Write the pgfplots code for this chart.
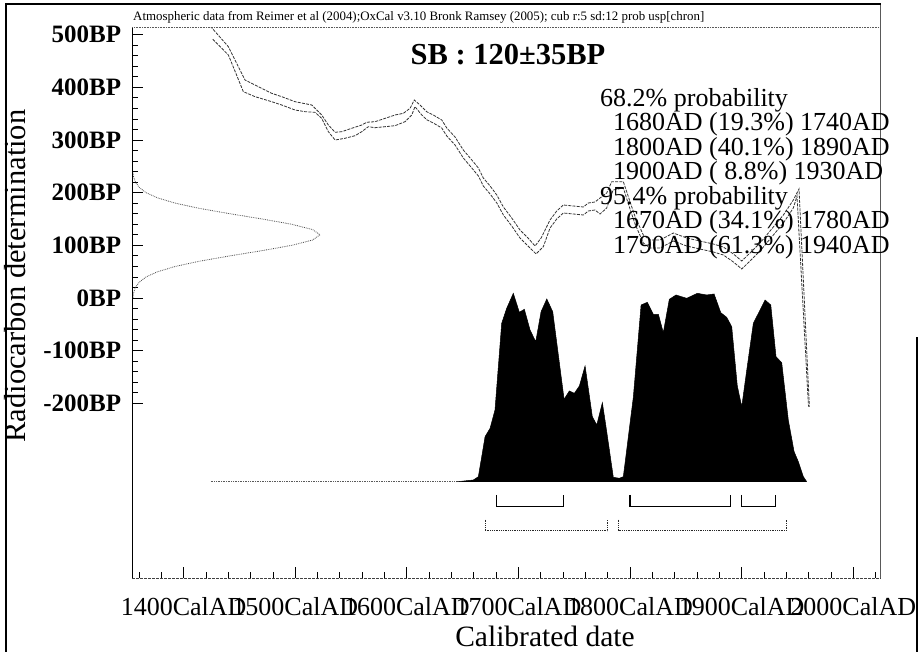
\documentclass[border=0pt]{standalone}
\usepackage{fontspec}
\setmainfont{Liberation Serif}
\usepackage{pgfplots}
\pgfplotsset{compat=1.18}

\newcommand\fs[1]{\fontsize{#1}{#1}\selectfont}

\begin{document}
\begin{tikzpicture}[x=1pt,y=1pt]
\path[use as bounding box] (0,0) rectangle (919,652);

\begin{axis}[
  at={(132.3pt,73.7pt)}, anchor=south west,
  scale only axis, width=748.4pt, height=550.8pt,
  xmin=1354, xmax=2024.6, ymin=-532.3, ymax=513.7,
  axis line style={draw=none},
  no markers,
  tick align=inside, xtick pos=left, ytick pos=left,
  xtick={1400,1500,...,2000},
  xticklabels={1400CalAD,1500CalAD,1600CalAD,1700CalAD,1800CalAD,1900CalAD,2000CalAD},
  minor xtick={1360,1380,...,2020},
  ytick={-200,-100,...,500},
  yticklabels={-200BP,-100BP,0BP,100BP,200BP,300BP,400BP,500BP},
  minor ytick={-200,-180,...,500},
  major tick length=11pt, minor tick length=6pt,
  tick style={black, line width=0.8pt},
  xticklabel style={font=\fs{26}, anchor=base, yshift=-37.5pt, inner sep=0pt},
  yticklabel style={font=\bfseries\fs{25}, anchor=east, inner sep=0pt, xshift=-11pt},
]

% calibration curve, upper and lower 1-sigma envelopes
\addplot[black!80, line width=0.8pt, dash pattern=on 3pt off 1.2pt] coordinates {
(1424,516) (1440.1,477.2) (1455.0,414.0) (1464.0,404.5) (1478.9,388.7) (1487.9,382.3)
(1499.8,372.8) (1514.8,366.5) (1523.7,347.5) (1529.7,328.5) (1535.7,314.7) (1541.7,315.8)
(1550.6,322.3) (1559.6,328.5) (1564.1,333.7) (1571.5,334.8) (1580.5,341.2) (1589.4,347.5)
(1596.9,350.7) (1602.9,360.2) (1606.7,376.0) (1611.8,366.5) (1617.8,353.8) (1623.7,347.5)
(1631.3,338.0) (1635.8,322.8) (1643.2,305.7) (1650.6,281.0) (1658.2,262.1) (1664.1,246.9)
(1668.5,227.9) (1674.6,212.7) (1680.6,195.6) (1686.5,172.8) (1694.0,151.9) (1701.4,129.1)
(1708.6,113.9) (1714.9,98.7) (1720.3,113.9) (1728.3,148.1) (1734.3,165.2) (1740.2,176.6)
(1749.2,174.7) (1758.2,172.8) (1762.6,180.4) (1768.6,182.3) (1773.1,189.9) (1779.1,199.4)
(1783.6,220.9) (1794.0,220.9) (1798.5,192.4) (1804.5,154.4) (1811.9,119.6) (1817.9,110.1)
(1826.9,110.1) (1838.8,123.4) (1850.8,113.9) (1862.7,108.2) (1874.6,102.5) (1883.6,96.8)
(1892.6,83.6) (1900.1,70.3) (1907.5,85.5) (1916.5,104.4) (1928.4,134.8) (1937.4,157.6)
(1946.3,186.1) (1951.4,207.0) (1960.7,-206.4)};
\addplot[black!80, line width=0.8pt, dash pattern=on 3pt off 1.2pt] coordinates {
(1426.1,491.3) (1440.1,461.5) (1453.5,391.8) (1464.0,382.3) (1478.9,372.8) (1487.9,366.5)
(1499.8,357.0) (1508.8,353.8) (1517.7,352.6) (1523.7,341.2) (1529.7,315.8) (1535.7,300.0)
(1544.6,303.3) (1553.6,308.2) (1559.6,315.8) (1565.5,325.3) (1571.5,323.4) (1580.5,325.3)
(1589.4,327.2) (1598.4,334.8) (1604.4,347.5) (1607.3,363.3) (1613.4,347.5) (1617.8,338.6)
(1623.7,332.3) (1631.3,322.8) (1635.8,307.6) (1643.2,290.5) (1650.6,265.9) (1658.2,246.9)
(1664.1,231.7) (1668.5,212.7) (1674.6,197.5) (1680.6,180.4) (1686.5,157.6) (1694.0,136.7)
(1701.4,113.9) (1708.6,98.7) (1715.8,83.6) (1722.3,97.4) (1728.3,132.9) (1734.3,150.0)
(1740.2,161.4) (1749.2,159.5) (1758.2,157.6) (1762.6,165.2) (1768.6,167.1) (1773.1,159.5)
(1779.1,170.9) (1784.8,205.1) (1794.0,208.9) (1798.5,178.5) (1804.5,140.5) (1811.9,104.4)
(1817.9,94.9) (1826.9,94.9) (1838.8,108.2) (1850.8,98.7) (1862.7,93.0) (1874.6,87.4)
(1883.6,81.7) (1892.6,68.4) (1900.1,55.1) (1907.5,70.3) (1916.5,89.3) (1928.4,119.6)
(1937.4,142.4) (1946.3,170.9) (1949.6,193.7) (1959.9,-206.4)};

% measured date 120 +/- 35 BP, drawn against the y axis
\addplot[black!70, line width=0.8pt, densely dotted] coordinates {
(1354.5,0) (1355.2,10) (1356.8,20) (1360.2,30) (1366.3,40) (1376.8,50) (1392.7,60)
(1414.6,70) (1441.5,80) (1470.5,90) (1496.9,100) (1515.5,110) (1522.2,120) (1515.5,130)
(1496.9,140) (1470.5,150) (1441.5,160) (1414.6,170) (1392.7,180) (1376.8,190) (1366.3,200)
(1360.2,210) (1356.8,220) (1355.2,230) (1354.5,240)};

% calibrated probability distribution
\addplot[black!65, line width=0.7pt, densely dotted] coordinates {(1424.3,-349) (1645,-349)};
\addplot[fill=black, draw=black, line width=0.5pt] coordinates {
(1644.7,-349) (1659.6,-345.6) (1664.1,-339.3) (1670.1,-263.4) (1674.6,-247.4) (1679.0,-212.7)
(1685.0,-48.0) (1689.5,-19.6) (1695.4,8.9) (1700.8,-27.2) (1705.3,-21.5) (1710.4,-60.8)
(1715.5,-83.0) (1720.3,-26.0) (1725.4,-1.9) (1730.7,-26.0) (1740.9,-192.4) (1745.6,-176.6)
(1750.1,-181.0) (1754.6,-167.1) (1759.7,-129.1) (1766.2,-225.4) (1770.2,-241.2) (1775.2,-198.8)
(1779.1,-253.9) (1785.0,-340.5) (1790.4,-342.4) (1794.0,-339.3) (1803.0,-187.4) (1809.9,-13.3)
(1815.5,-8.2) (1820.9,-31.0) (1825.4,-31.0) (1829.8,-65.9) (1835.2,-2.5) (1841.2,5.7)
(1850.8,-0.6) (1860.3,8.9) (1868.7,5.7) (1875.3,7.6) (1881.3,-27.9) (1886.6,-36.7)
(1891.1,-54.5) (1896.1,-167.1) (1900.1,-206.4) (1904.6,-136.7) (1910.5,-48.0) (1921.0,-3.8)
(1926.1,-13.3) (1930.8,-111.5) (1935.9,-122.9) (1941.8,-231.7) (1947.0,-291.9) (1950.8,-310.9)
(1955.3,-339.3) (1958.3,-349)};

% 68.2% ranges
\addplot[black, line width=1.1pt] coordinates {(1680,-374) (1680,-396) (1740,-396) (1740,-374)};
\addplot[black, line width=1.1pt] coordinates {(1800,-374) (1800,-396) (1890,-396) (1890,-374)};
\addplot[black, line width=1.1pt] coordinates {(1900,-374) (1900,-396) (1930,-396) (1930,-374)};
% 95.4% ranges
\addplot[black!85, line width=0.8pt, densely dotted] coordinates {(1670,-421) (1670,-442) (1780,-442) (1780,-421)};
\addplot[black!85, line width=0.8pt, densely dotted] coordinates {(1790,-421) (1790,-442) (1940,-442) (1940,-421)};
\end{axis}

% plot frame
\draw[black, line width=1.6pt] (132.3,73.7) -- (132.3,624.5);
\draw[black!75, line width=0.7pt, dash pattern=on 3pt off 1pt] (132.3,73.7) -- (880.7,73.7);
\draw[black!65, line width=0.6pt, densely dotted] (132.3,624.5) -- (880.7,624.5);
\draw[black!65, line width=0.6pt] (880.7,73.7) -- (880.7,648);
% outer frame
\draw[black, line width=1.5pt] (6,0) -- (6,648) -- (880.7,648);
\draw[black, line width=2pt] (917,0) -- (917,315);

% texts
\node[anchor=base west, inner sep=0pt, font=\fs{12.9}] at (133,631.3)
  {Atmospheric data from Reimer et al (2004);OxCal v3.10 Bronk Ramsey (2005); cub r:5 sd:12 prob usp[chron]};
\node[anchor=base, inner sep=0pt, font=\bfseries\fs{30.5}] at (508,587) {SB : 120±35BP};
\begin{scope}[every node/.style={anchor=base west, inner sep=0pt, font=\fs{26}}]
\node at (600,545.5) {68.2\% probability};
\node at (613,521) {1680AD (19.3\%) 1740AD};
\node at (613,496.5) {1800AD (40.1\%) 1890AD};
\node at (613,472) {1900AD ( 8.8\%) 1930AD};
\node at (600,447.5) {95.4\% probability};
\node at (613,423) {1670AD (34.1\%) 1780AD};
\node at (613,398.5) {1790AD (61.3\%) 1940AD};
\end{scope}
\node[rotate=90, anchor=base, inner sep=0pt, font=\fs{30.5}] at (25.5,376) {Radiocarbon determination};
\node[anchor=base, inner sep=0pt, font=\fs{29.5}] at (545,5.5) {Calibrated date};
\end{tikzpicture}
\end{document}
